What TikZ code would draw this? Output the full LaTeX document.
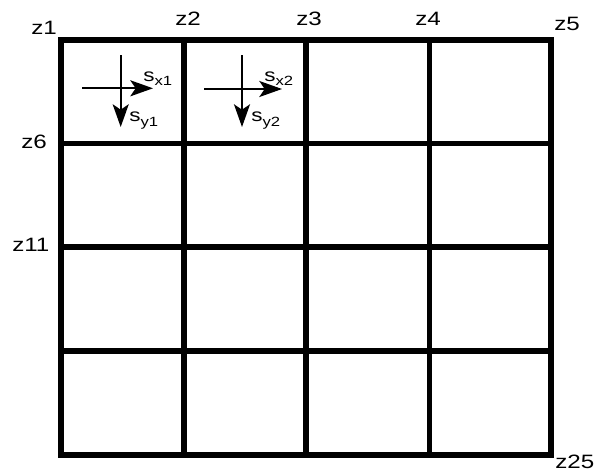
\documentclass[tikz,border=0pt]{standalone}
\usepackage{fontspec}
\setmainfont{Liberation Sans}[FakeStretch=1.25]
\usetikzlibrary{arrows.meta}
\newcommand{\subtxt}[1]{\raisebox{-3.2pt}{\fontsize{10pt}{11pt}\selectfont #1}}

\begin{document}
\begin{tikzpicture}[x=0.75pt,y=-0.75pt, grd/.style={line width=4.1pt}, arr/.style={-{Stealth[length=17pt,width=12pt,inset=4pt]},line width=1.6pt}, lbl/.style={font=\fontsize{14.5pt}{16pt}\selectfont,inner sep=0pt,anchor=base west}, sl/.style={font=\fontsize{13.5pt}{15pt}\selectfont,inner sep=0pt,anchor=base west}]
\useasboundingbox (0,0) rectangle (594,471);
% grid of cells
\draw[grd] (61,40) rectangle (551,455);
\draw[grd] (184,40) -- (184,455);
\draw[grd] (306,40) -- (306,455);
\draw[grd] (429.5,40) -- (429.5,455);
\draw[grd] (61,143.7) -- (551,143.7);
\draw[grd] (61,247.2) -- (551,247.2);
\draw[grd] (61,351) -- (551,351);
% vertex labels
\node[lbl] (z1) at (31,34) {z1};
\node[lbl] (z2) at (175,26) {z2};
\node[lbl] (z3) at (296,26) {z3};
\node[lbl] (z4) at (415,26) {z4};
\node[lbl] (z5) at (554,31) {z5};
\node[lbl] (z6) at (21,148) {z6};
\node[lbl] (z11) at (12,251) {z11};
\node[lbl] (z25) at (555,468) {z25};
% step directions, cell 1
\coordinate (h1s) at (82,88.3);
\coordinate (h1e) at (153,88.3);
\coordinate (v1s) at (120.7,55);
\coordinate (v1e) at (120.7,127);
\draw[arr] (h1s) -- (h1e);
\draw[arr] (v1s) -- (v1e);
\node[sl] (sx1) at (143,81) {s\subtxt{x1}};
\node[sl] (sy1) at (129,122) {s\subtxt{y1}};
% step directions, cell 2
\coordinate (h2s) at (204,89);
\coordinate (h2e) at (282,89);
\coordinate (v2s) at (242,55);
\coordinate (v2e) at (242,127);
\draw[arr] (h2s) -- (h2e);
\draw[arr] (v2s) -- (v2e);
\node[sl] (sx2) at (264,81) {s\subtxt{x2}};
\node[sl] (sy2) at (251,122) {s\subtxt{y2}};
\end{tikzpicture}
\end{document}
